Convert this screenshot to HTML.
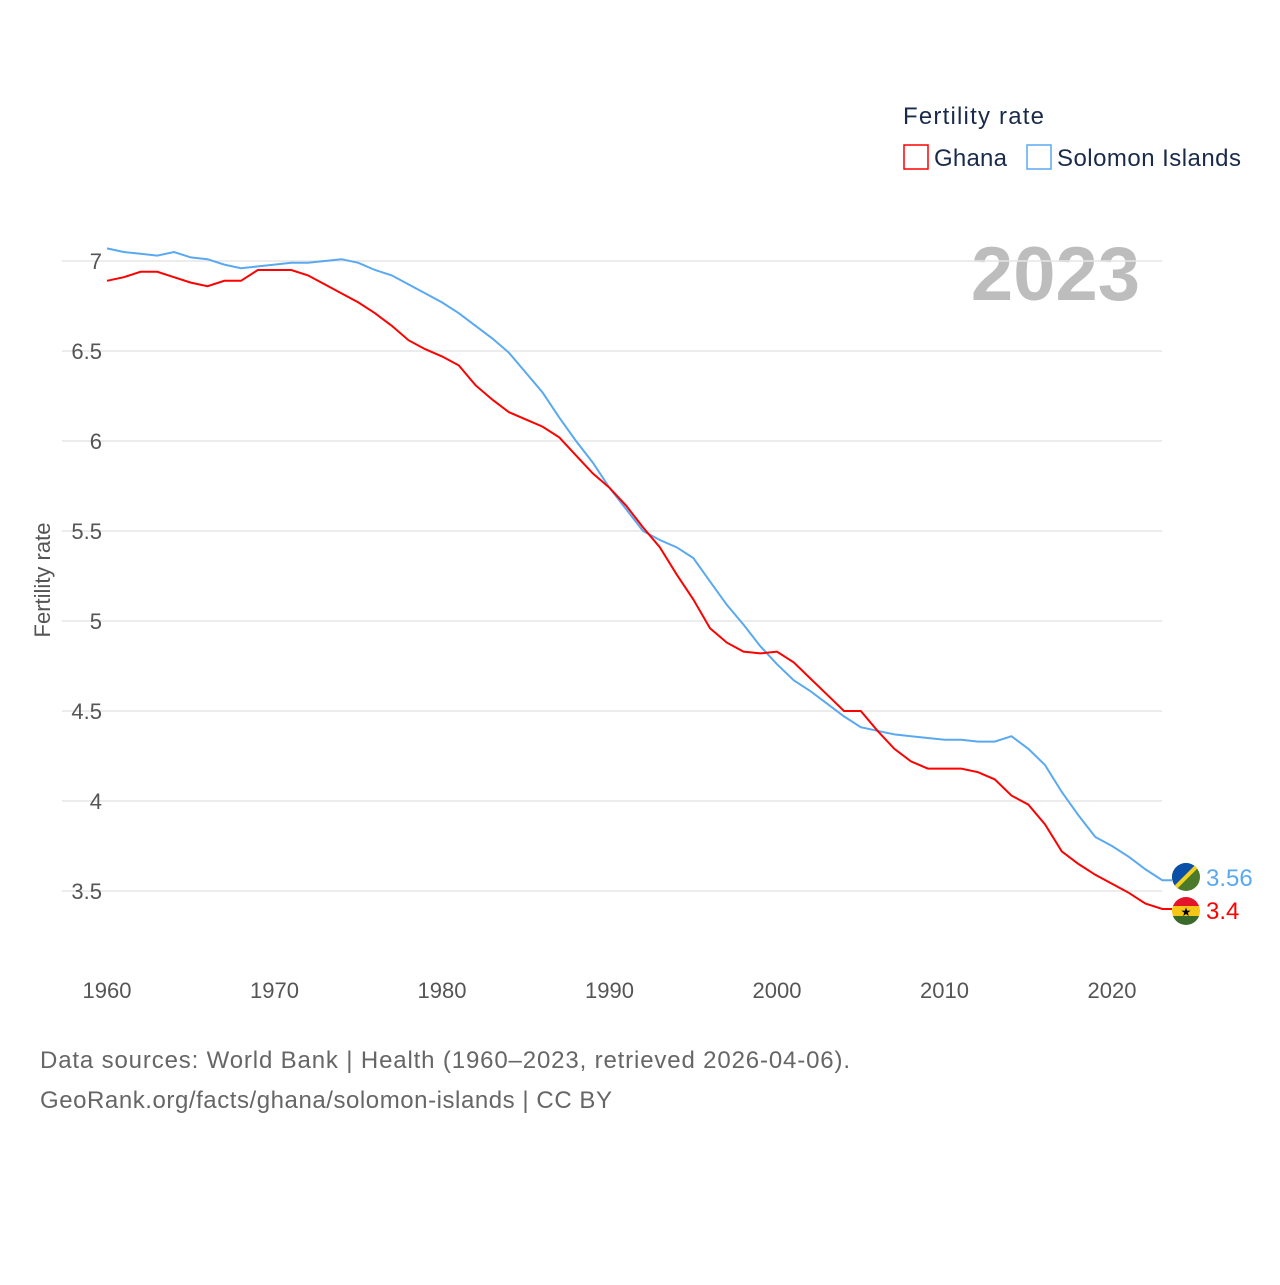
<!DOCTYPE html>
<html><head><meta charset="utf-8"><style>
body{margin:0;background:#fff;font-family:"Liberation Sans",sans-serif}
svg text{font-family:"Liberation Sans",sans-serif}
</style></head><body>
<svg width="1280" height="1280" viewBox="0 0 1280 1280" xmlns="http://www.w3.org/2000/svg" id="chart">
<text x="903" y="124" font-size="24" fill="#1a2b4a" textLength="141">Fertility rate</text>
<g><rect x="904" y="145" width="24" height="24" fill="none" stroke="#f00" stroke-width="1.5"/><text x="934" y="166" font-size="24" fill="#1a2b4a" textLength="73">Ghana</text></g>
<g><rect x="1027" y="145" width="24" height="24" fill="none" stroke="#5aa9f0" stroke-width="1.5"/><text x="1057" y="166" font-size="24" fill="#1a2b4a" textLength="184">Solomon Islands</text></g>
<text x="1140" y="300" font-size="76" font-weight="bold" fill="#bdbdbd" text-anchor="end">2023</text>
<g id="grid"></g><g id="xt"></g>
<text transform="translate(50,580) rotate(-90)" font-size="22" fill="#555" text-anchor="middle">Fertility rate</text>
<g id="lines"></g>
<g><clipPath id="c1"><circle cx="1186" cy="877" r="14"/></clipPath><g clip-path="url(#c1)"><rect x="1170" y="861" width="32" height="32" fill="#4a7a2a"/><polygon points="1170,861 1202,861 1170,893" fill="#0a4fa8"/><line x1="1170" y1="893" x2="1202" y2="861" stroke="#f5d020" stroke-width="4"/></g></g>
<g><clipPath id="c2"><circle cx="1186" cy="911" r="14"/></clipPath><g clip-path="url(#c2)"><rect x="1170" y="895" width="32" height="11" fill="#e4142a"/><rect x="1170" y="906" width="32" height="10" fill="#f5c518"/><rect x="1170" y="916" width="32" height="11" fill="#3a6a2a"/></g><text x="1186" y="916" font-size="12" text-anchor="middle" fill="#000">★</text></g>
<text x="1206" y="886" font-size="24" fill="#5aa9f0">3.56</text>
<text x="1206" y="919" font-size="24" fill="#f00">3.4</text>
<text x="40" y="1068" font-size="24" fill="#666" textLength="810">Data sources: World Bank | Health (1960–2023, retrieved 2026-04-06).</text>
<text x="40" y="1108" font-size="24" fill="#666" textLength="572">GeoRank.org/facts/ghana/solomon-islands | CC BY</text>
</svg>
<script>
const years=[];for(let y=1960;y<=2023;y++)years.push(y);
const ghana=[6.89,6.91,6.94,6.94,6.91,6.88,6.86,6.89,6.89,6.95,6.95,6.95,6.92,6.87,6.82,6.77,6.71,6.64,6.56,6.51,6.47,6.42,6.31,6.23,6.16,6.12,6.08,6.02,5.92,5.82,5.74,5.64,5.52,5.41,5.26,5.12,4.96,4.88,4.83,4.82,4.83,4.77,4.68,4.59,4.50,4.50,4.39,4.29,4.22,4.18,4.18,4.18,4.16,4.12,4.03,3.98,3.87,3.72,3.65,3.59,3.54,3.49,3.43,3.40];
const solomon=[7.07,7.05,7.04,7.03,7.05,7.02,7.01,6.98,6.96,6.97,6.98,6.99,6.99,7.00,7.01,6.99,6.95,6.92,6.87,6.82,6.77,6.71,6.64,6.57,6.49,6.38,6.27,6.13,6.00,5.88,5.74,5.62,5.50,5.45,5.41,5.35,5.22,5.09,4.98,4.86,4.76,4.67,4.61,4.54,4.47,4.41,4.39,4.37,4.36,4.35,4.34,4.34,4.33,4.33,4.36,4.29,4.20,4.05,3.92,3.80,3.75,3.69,3.62,3.56];
const yTicks=[3.5,4,4.5,5,5.5,6,6.5,7];
const xTicks=[1960,1970,1980,1990,2000,2010,2020];
const X=v=>107+(v-1960)*16.75, Y=v=>261+(7-v)*180;
const NS="http://www.w3.org/2000/svg";
function mk(t,a,p){const e=document.createElementNS(NS,t);for(const k in a)e.setAttribute(k,a[k]);p.appendChild(e);return e;}
const g=document.getElementById('grid');
yTicks.forEach(t=>{const l=mk('line',{x1:62,x2:1162,y1:Y(t),y2:Y(t),stroke:'#e6e6e6','stroke-width':1.5},g);


const tx=mk('text',{x:102,y:Y(t)+8,'font-size':22,fill:'#555','text-anchor':'end'},g);tx.textContent=t;

});
const xt=document.getElementById('xt');
xTicks.forEach(t=>{const tx=mk('text',{x:X(t),y:998,'font-size':22,fill:'#555','text-anchor':'middle'},xt);tx.textContent=t;

});
const L=document.getElementById('lines');
function line(d,c,n){let p=d.map((v,i)=>(i?'L':'M')+X(years[i]).toFixed(1)+','+Y(v).toFixed(1)).join('');p+='L1172,'+Y(d[d.length-1]).toFixed(1);
const e=mk('path',{d:p,fill:'none',stroke:c,'stroke-width':2},L);

}
line(solomon,'#5aa9f0','solomon-islands-line');
line(ghana,'#f00','ghana-line');
</script>
</body></html>
